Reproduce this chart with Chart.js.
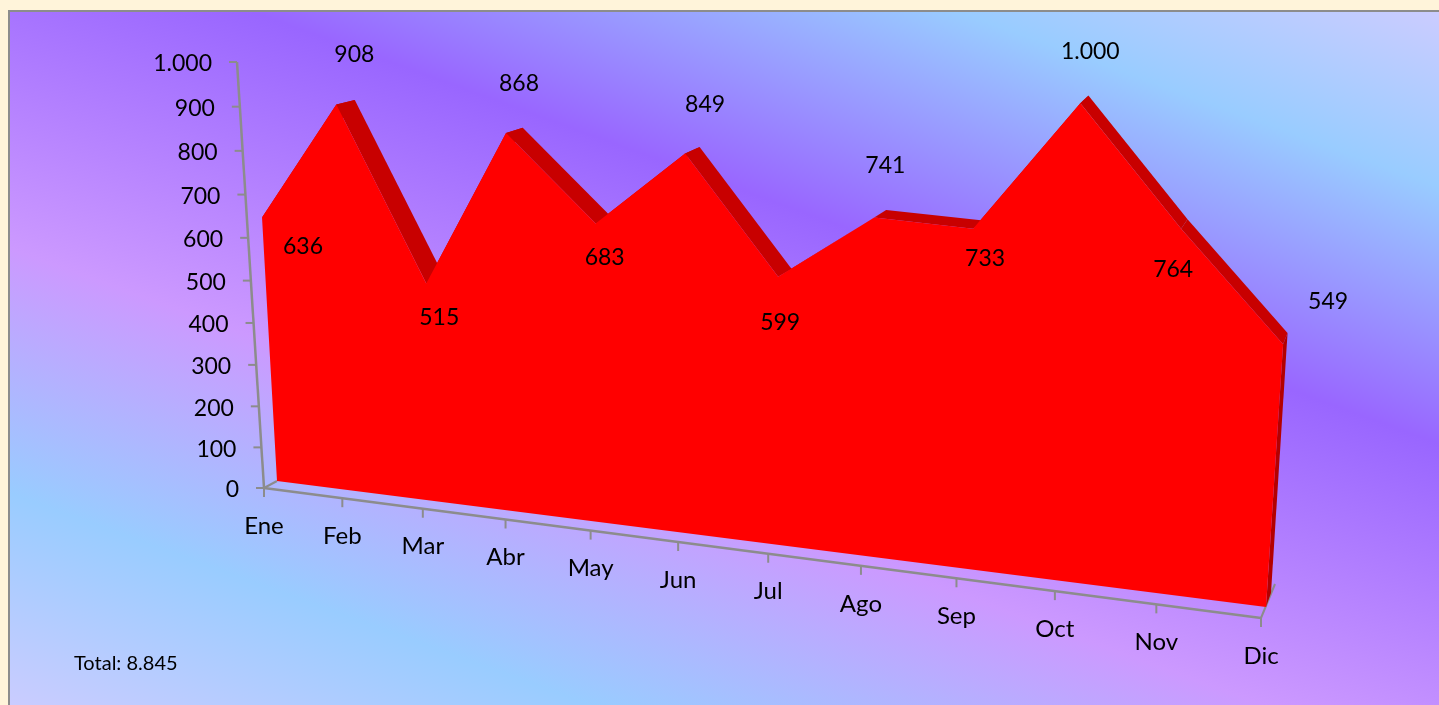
<!DOCTYPE html>
<html lang="es">
<head>
<meta charset="utf-8">
<title>Total por mes</title>
<script src="https://cdn.jsdelivr.net/npm/chart.js@4"></script>
<style>
    html, body { margin: 0; height: 100%; background: #fff4da; overflow: hidden; }
    #panel {
        position: absolute; left: 8px; top: 10px; width: 1440px; height: 704px;
        box-sizing: border-box;
        border-left: 2px solid #8c8c8c; border-top: 2px solid #8c8c8c;
        background: linear-gradient(200deg, #ccccff 0%, #99ccff 14.5%, #9966ff 35.5%, #cc99ff 62%, #99ccff 82%, #ccccff 100%);
    }
    canvas { position: absolute; left: 0; top: 0; }
</style>
</head>
<body>
<div id="panel"></div>
<canvas id="chart" width="1439" height="705"></canvas>
<script>
// Data
const months = ['Ene', 'Feb', 'Mar', 'Abr', 'May', 'Jun', 'Jul', 'Ago', 'Sep', 'Oct', 'Nov', 'Dic'];
const values = [636, 908, 515, 868, 683, 849, 599, 741, 733, 1000, 764, 549];
const yMax = 1000;
const yStep = 100;

// Where each data label sits relative to its point, in pixels
const labelShift = [[41, 28], [18, -51], [13, 33], [13, -51], [9, 33], [20, -50], [2, 45], [11, -53], [12, 29], [10, -53], [-8, 40], [45, -44]];

// The view: each plane is the quad [bottom left, bottom right, top right, top left]
const planes = {
    axis: [[264, 488], [1261, 618], [1293, 122], [237, 62]],
    front: [[277, 481], [1266, 607], [1298, 115], [253, 59]],
    back: [[298, 475], [1271, 593], [1302, 106], [272, 55]]
};
const floorBackRight = [1275, 584];

const axisColor = '#8c8c8c';
const font = '23px Lato';
const monthFont = '24px Lato';
const number = new Intl.NumberFormat('de-DE');

// Unit square to quad homography
function homography([p0, p1, p2, p3]) {
    const dx1 = p1[0] - p2[0], dx2 = p3[0] - p2[0], sx = p0[0] - p1[0] + p2[0] - p3[0];
    const dy1 = p1[1] - p2[1], dy2 = p3[1] - p2[1], sy = p0[1] - p1[1] + p2[1] - p3[1];
    const den = dx1 * dy2 - dx2 * dy1;
    const g = (sx * dy2 - dx2 * sy) / den;
    const h = (dx1 * sy - sx * dy1) / den;
    const a = p1[0] - p0[0] + g * p1[0], b = p3[0] - p0[0] + h * p3[0];
    const d = p1[1] - p0[1] + g * p1[1], e = p3[1] - p0[1] + h * p3[1];
    return (u, v) => {
        const w = g * u + h * v + 1;
        return [(a * u + b * v + p0[0]) / w, (d * u + e * v + p0[1]) / w];
    };
}
const maps = {};
Object.keys(planes).forEach(name => { maps[name] = homography(planes[name]); });

// Scale pixels (flat chart area) to the tilted plane
function project(chart, plane, px, py) {
    const area = chart.chartArea;
    return maps[plane]((px - area.left) / area.width, (area.bottom - py) / area.height);
}

function polygon(ctx, points, color) {
    ctx.beginPath();
    points.forEach((p, i) => i ? ctx.lineTo(p[0], p[1]) : ctx.moveTo(p[0], p[1]));
    ctx.closePath();
    ctx.fillStyle = color;
    ctx.fill();
}

function segment(ctx, a, b) {
    ctx.beginPath();
    ctx.moveTo(a[0], a[1]);
    ctx.lineTo(b[0], b[1]);
    ctx.stroke();
}

const perspective = {
    id: 'perspective',

    // Move every point element from the flat scale position to its plane
    afterDatasetsUpdate(chart) {
        chart.data.datasets.forEach((dataset, i) => {
            chart.getDatasetMeta(i).data.forEach(point => {
                const [x, y] = project(chart, dataset.plane, point.x, point.y);
                point.x = x;
                point.y = y;
            });
        });
    },

    // Floor, axes and tick labels go under the area
    beforeDatasetsDraw(chart) {
        const { ctx, scales: { x: xScale, y: yScale } } = chart;
        const zero = yScale.getPixelForValue(0);
        const origin = project(chart, 'axis', xScale.left, zero);
        const end = project(chart, 'axis', xScale.right, zero);
        const top = project(chart, 'axis', xScale.left, yScale.getPixelForValue(yMax));

        ctx.save();
        ctx.strokeStyle = axisColor;
        ctx.lineWidth = 2.5;
        ctx.font = font;
        ctx.fillStyle = '#000';

        segment(ctx, origin, top);
        segment(ctx, origin, end);
        ctx.lineWidth = 2;
        segment(ctx, origin, planes.front[0]);
        segment(ctx, end, floorBackRight);

        ctx.textAlign = 'right';
        ctx.textBaseline = 'middle';
        yScale.ticks.forEach(tick => {
            const p = project(chart, 'axis', xScale.left, yScale.getPixelForValue(tick.value));
            segment(ctx, p, [p[0] - 8, p[1]]);
            ctx.fillText(tick.label, p[0] - 25, p[1] + 2);
        });

        ctx.textAlign = 'center';
        ctx.font = monthFont;
        xScale.ticks.forEach((tick, i) => {
            const p = project(chart, 'axis', xScale.getPixelForTick(i), zero);
            segment(ctx, p, [p[0], p[1] + 9]);
            ctx.fillText(tick.label, p[0], p[1] + 38);
        });
        ctx.restore();
    },

    // Fill the solid when the front dataset comes up: side ribbon first, then the face
    beforeDatasetDraw(chart, args) {
        const dataset = chart.data.datasets[args.index];
        if (dataset.plane !== 'front') return;
        const { ctx, scales: { x: xScale, y: yScale } } = chart;
        const zero = yScale.getPixelForValue(0);
        const front = args.meta.data.map(p => [p.x, p.y]);
        const back = chart.getDatasetMeta(1 - args.index).data.map(p => [p.x, p.y]);
        const last = front.length - 1;

        ctx.save();
        for (let i = 0; i < last; i++) {
            polygon(ctx, [front[i], front[i + 1], back[i + 1], back[i]], dataset.sideColor);
        }
        polygon(ctx, [front[last], project(chart, 'front', xScale.right, zero),
            project(chart, 'back', xScale.right, zero), back[last]], dataset.wallColor);
        polygon(ctx, front.concat([
            project(chart, 'front', xScale.right, zero),
            project(chart, 'front', xScale.left, zero)
        ]), dataset.backgroundColor);
        ctx.restore();
    },

    // Data labels and the total go on top
    afterDatasetsDraw(chart) {
        const { ctx } = chart;
        const index = chart.data.datasets.findIndex(d => d.plane === 'front');
        const points = chart.getDatasetMeta(index).data;

        ctx.save();
        ctx.fillStyle = '#000';
        ctx.font = font;
        ctx.textAlign = 'center';
        ctx.textBaseline = 'middle';
        points.forEach((p, i) => {
            ctx.fillText(number.format(values[i]), p.x + labelShift[i][0], p.y + labelShift[i][1] + 1);
        });

        const total = values.reduce((sum, v) => sum + v, 0);
        ctx.font = '20px Lato';
        ctx.textAlign = 'left';
        ctx.fillText('Total: ' + number.format(total), 74, 664);
        ctx.restore();
    }
};

new Chart(document.getElementById('chart'), {
    type: 'line',
    data: {
        labels: months,
        datasets: [
            { data: values, plane: 'front', backgroundColor: '#ff0000', sideColor: '#c80000', wallColor: '#b40000', borderWidth: 0, pointRadius: 0, fill: false, clip: false },
            { data: values, plane: 'back', backgroundColor: '#c80000', borderWidth: 0, pointRadius: 0, fill: false, clip: false }
        ]
    },
    options: {
        responsive: false,
        animation: false,
        events: [],
        layout: { padding: 0 },
        plugins: { legend: { display: false }, tooltip: { enabled: false } },
        scales: {
            x: { display: false, offset: false },
            y: {
                display: false,
                min: 0,
                max: yMax,
                ticks: { stepSize: yStep, callback: v => number.format(v) }
            }
        }
    },
    plugins: [perspective]
});
</script>
</body>
</html>
